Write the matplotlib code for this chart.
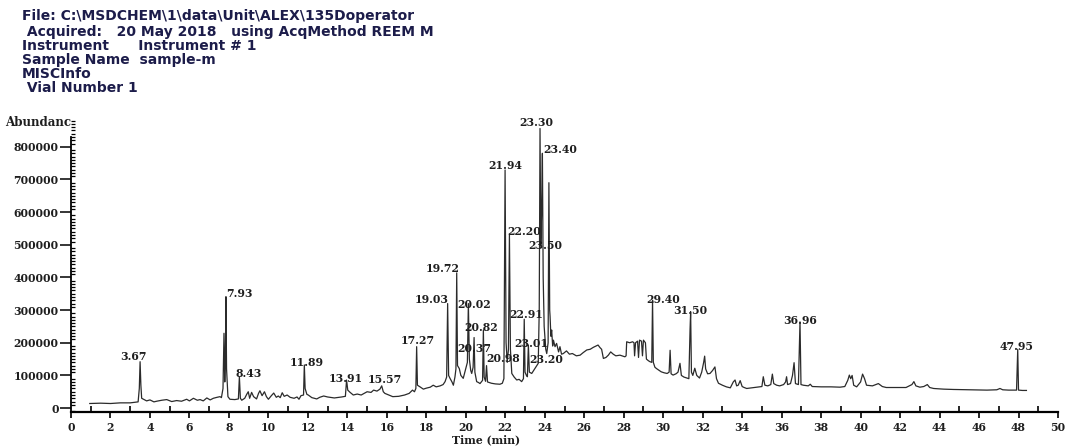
import numpy as np
import matplotlib
matplotlib.use("Agg")
import matplotlib.pyplot as plt
from matplotlib.ticker import MultipleLocator

plt.rcParams['font.family'] = 'DejaVu Serif'
plt.rcParams['font.weight'] = 'bold'

#########################
# Header block
header_lines = [
    "File: C:\\MSDCHEM\\1\\data\\Unit\\ALEX\\135Doperator",
    " Acquired:   20 May 2018   using AcqMethod REEM M",
    "Instrument      Instrument # 1",
    "Sample Name  sample-m",
    "MISCInfo",
    " Vial Number 1",
]

# Total ion chromatogram (time in min, abundance in thousands)
rt_min = [
    0.95, 1.5, 2.0, 2.5, 3.0, 3.40, 3.46, 3.50, 3.54, 3.58, 3.7, 3.83, 4.0, 4.2, 4.34, 4.6, 4.85,
    5.1, 5.35, 5.6, 5.86, 6.0, 6.2, 6.4, 6.54, 6.7, 6.88, 7.05, 7.21, 7.4, 7.55, 7.62, 7.70, 7.75,
    7.79, 7.82, 7.85, 7.88, 7.91, 7.95, 8.05, 8.3, 8.48, 8.53, 8.58, 8.65, 8.8, 8.9, 8.98, 9.05,
    9.15, 9.25, 9.4, 9.5, 9.57, 9.68, 9.8, 9.9, 10.0, 10.15, 10.27, 10.4, 10.5, 10.6, 10.7, 10.8,
    10.95, 11.1, 11.3, 11.45, 11.55, 11.65, 11.78, 11.82, 11.86, 11.95, 12.02, 12.2, 12.45, 12.6,
    12.8, 13.0, 13.34, 13.71, 13.90, 13.96, 14.02, 14.14, 14.3, 14.5, 14.7, 15.0, 15.2, 15.33,
    15.5, 15.65, 15.74, 15.82, 15.9, 16.1, 16.3, 16.6, 16.9, 17.13, 17.3, 17.4, 17.47, 17.51,
    17.55, 17.68, 17.85, 18.0, 18.2, 18.35, 18.5, 18.7, 18.85, 18.95, 19.03, 19.08, 19.13, 19.2,
    19.3, 19.37, 19.45, 19.50, 19.54, 19.58, 19.67, 19.75, 19.87, 19.95, 20.03, 20.08, 20.13,
    20.18, 20.25, 20.3, 20.37, 20.42, 20.46, 20.55, 20.65, 20.72, 20.85, 20.89, 20.93, 21.0,
    21.05, 21.1, 21.3, 21.5, 21.73, 21.85, 21.93, 21.99, 22.04, 22.10, 22.16, 22.21, 22.26,
    22.33, 22.45, 22.58, 22.7, 22.83, 22.92, 22.96, 23.0, 23.07, 23.12, 23.17, 23.22, 23.34,
    23.5, 23.6, 23.67, 23.72, 23.76, 23.80, 23.84, 23.88, 23.92, 23.97, 24.05, 24.1, 24.17,
    24.21, 24.25, 24.27, 24.31, 24.35, 24.4, 24.44, 24.52, 24.6, 24.7, 24.77, 24.85, 24.94,
    25.1, 25.25, 25.4, 25.6, 25.79, 25.95, 26.13, 26.3, 26.46, 26.6, 26.7, 26.8, 26.88, 26.97,
    27.1, 27.22, 27.34, 27.47, 27.6, 27.81, 28.06, 28.12, 28.15, 28.3, 28.45, 28.52, 28.55,
    28.6, 28.7, 28.75, 28.8, 28.9, 28.95, 29.0, 29.1, 29.15, 29.25, 29.33, 29.42, 29.46, 29.50,
    29.58, 29.66, 29.9, 30.05, 30.2, 30.3, 30.35, 30.4, 30.5, 30.65, 30.75, 30.85, 30.92, 31.05,
    31.2, 31.3, 31.36, 31.39, 31.43, 31.5, 31.6, 31.7, 31.84, 31.95, 32.05, 32.1, 32.15, 32.25,
    32.37, 32.5, 32.62, 32.7, 32.8, 33.0, 33.2, 33.4, 33.55, 33.64, 33.72, 33.8, 33.9, 34.0,
    34.1, 34.23, 34.5, 34.8, 35.0, 35.07, 35.15, 35.3, 35.45, 35.53, 35.6, 35.75, 35.9, 36.1,
    36.2, 36.25, 36.3, 36.45, 36.55, 36.63, 36.7, 36.85, 36.93, 36.98, 37.1, 37.35, 37.45,
    37.55, 38.0, 38.5, 38.96, 39.2, 39.35, 39.43, 39.5, 39.57, 39.65, 39.8, 40.0, 40.1, 40.2,
    40.3, 40.6, 40.9, 41.1, 41.3, 42.0, 42.3, 42.6, 42.7, 42.8, 43.0, 43.2, 43.38, 43.5, 43.7,
    44.2, 44.7, 45.5, 46.4, 46.9, 47.06, 47.2, 47.5, 47.9, 47.96, 48.0, 48.2, 48.4,
]
abund_k = [
    14, 15, 14, 16, 16, 19, 60, 142, 70, 30, 26, 22, 25, 19, 21, 24, 26,
    20, 23, 21, 27, 22, 30, 24, 26, 22, 31, 25, 30, 33, 35, 32, 60, 229,
    80, 150, 341, 120, 83, 35, 27, 26, 28, 96, 30, 24, 30, 42, 50, 30,
    48, 35, 28, 45, 53, 38, 50, 35, 27, 38, 46, 33, 37, 32, 47, 36,
    40, 33, 30, 34, 27, 38, 40, 132, 60, 42, 40, 32, 28, 33,
    37, 34, 31, 34, 36, 86, 55, 48, 40, 43, 40, 50, 48, 55,
    52, 58, 68, 50, 45, 40, 35, 36, 40, 45, 55, 50, 60, 188,
    70, 65, 58, 61, 64, 70, 65, 68, 72, 81, 95, 320, 100, 91,
    80, 70, 95, 120, 414, 130, 121, 100, 91, 110, 130, 140, 320,
    150, 115, 106, 125, 216, 110, 81, 78, 75, 85, 239, 95, 82,
    130, 80, 76, 74, 73, 76, 90, 729, 200, 140, 180, 530, 180,
    106, 95, 86, 88, 81, 90, 272, 110, 100, 96, 193, 110, 106,
    121, 130, 137, 300, 856, 500, 600, 780, 400, 250, 180, 167, 200,
    690, 300, 280, 220, 239, 190, 208, 188, 198, 172, 188, 165, 167,
    175, 165, 167, 160, 162, 170, 178, 180, 186, 190, 193, 185, 180, 152,
    155, 162, 172, 165, 160, 162, 157, 160, 203, 200, 203, 200, 160,
    200, 205, 155, 208, 205, 160, 208, 200, 150, 145, 142, 140, 330, 140,
    125, 121, 111, 108, 106, 110, 177, 105, 101, 105, 110, 137, 100, 95,
    92, 90, 240, 295, 110, 100, 122, 100, 92, 110, 140, 159, 120, 105,
    106, 115, 126, 90, 76, 70, 65, 62, 80, 86, 68, 70, 84, 66,
    63, 60, 62, 64, 66, 96, 70, 68, 72, 104, 75, 70, 68, 72,
    80, 96, 72, 75, 100, 139, 75, 72, 264, 72, 70, 68, 73,
    66, 65, 65, 64, 66, 85, 101, 90, 100, 70, 65, 80, 104, 90,
    70, 68, 75, 66, 63, 63, 63, 72, 81, 68, 64, 66, 72, 63, 60,
    58, 57, 56, 55, 56, 60, 56, 55, 55, 180, 55, 54, 54,
]

# Peak annotations: text, label centre (min), label centre (abundance, thousands)
peak_labels = ["3.67", "7.93", "8.43", "11.89", "13.91", "15.57", "17.27", "19.03", "19.72",
               "20.02", "20.37", "20.82", "20.98", "21.94", "22.20", "22.91", "23.01", "23.20",
               "23.30", "23.40", "23.50", "29.40", "31.50", "36.96", "47.95"]
label_x = [3.16, 8.51, 9.02, 11.96, 13.93, 15.91, 17.58, 18.29, 18.85,
           20.42, 20.42, 20.77, 21.88, 21.98, 22.95, 23.05, 23.30, 24.06,
           23.56, 24.77, 24.01, 29.99, 31.36, 36.93, 47.92]
label_y_k = [157, 351, 106, 140, 91, 88, 206, 333, 428,
             318, 183, 246, 152, 744, 540, 285, 198, 149,
             874, 793, 499, 333, 300, 267, 188]
#########################

W, H = 1066, 447
fig = plt.figure(figsize=(W / 100, H / 100), dpi=100)
fig.patch.set_facecolor("white")

# axes: x 0..50 spans px 71..1058, y-axis line from px 412 up
left, right = 71 / W, 1058 / W
bottom, top = (H - 412) / H, (H - 120) / H
ax = fig.add_axes([left, bottom, right - left, top - bottom])

t = np.array(rt_min)
ab = np.array(abund_k) * 1000
ax.plot(t, ab, color="#2b2b2b", lw=0.9)

ink = "#1e1e1e"
for txt, lx, ly in zip(peak_labels, label_x, label_y_k):
    ax.text(lx, ly * 1000, txt, ha="center", va="center", fontsize=7.8,
            color=ink, clip_on=False)

ax.set_xlim(0, 50)
ax.set_ylim(-12000, 882000)
for s in ["top", "right"]:
    ax.spines[s].set_visible(False)
ax.spines["left"].set_bounds(-12000, 830000)
ax.spines["left"].set_linewidth(1.3)
ax.spines["bottom"].set_linewidth(1.6)

ax.xaxis.set_major_locator(MultipleLocator(2))
ax.xaxis.set_minor_locator(MultipleLocator(1))
ax.yaxis.set_major_locator(MultipleLocator(100000))
ax.yaxis.set_minor_locator(MultipleLocator(10000))
ax.yaxis.set_major_formatter(lambda v, pos: f"{int(round(v))}")
ax.tick_params(axis="both", labelsize=7.8, labelcolor=ink)
ax.tick_params(axis="x", which="major", direction="out", length=4, width=1.2, pad=3)
ax.tick_params(axis="x", which="minor", direction="in", length=4, width=1.2)
ax.tick_params(axis="y", which="major", direction="out", length=8, width=1.1, pad=1)
ax.tick_params(axis="y", which="minor", direction="in", length=3, width=0.9)

fig.text(5 / W, 1 - 122 / H, "Abundanc", fontsize=8.6, va="center", ha="left", color=ink)
fig.text(486 / W, 1 - 440 / H, "Time (min)", fontsize=7.8, va="center", ha="center", color=ink)

header_y = [16, 32, 46, 60, 74, 88]
for line, hy in zip(header_lines, header_y):
    fig.text(22 / W, 1 - hy / H, line, fontsize=10, fontweight="bold",
             family="DejaVu Sans", color="#1c1c4a", va="center", ha="left")

fig.savefig("out.png", dpi=100)
